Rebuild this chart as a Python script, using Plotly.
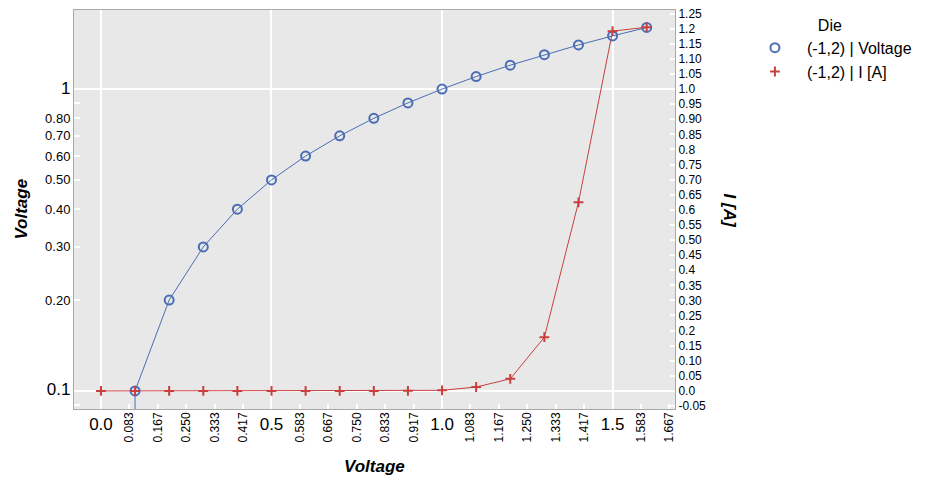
import plotly.graph_objects as go

# data
VOLTAGE = [0.0, 0.1, 0.2, 0.3, 0.4, 0.5, 0.6, 0.7, 0.8, 0.9, 1.0, 1.1, 1.2, 1.3, 1.4, 1.5, 1.6]
CURRENT = [0.0, 0.0, 0.0, 0.0, 0.0, 0.0, 0.0, 0.0, 0.0, 0.0005, 0.002, 0.013, 0.04, 0.178, 0.625, 1.192, 1.205]

X_MAJOR = [0.0, 0.5, 1.0, 1.5]
X_MAJOR_TEXT = ["0.0", "0.5", "1.0", "1.5"]
X_MINOR = [k / 12 for k in range(1, 21) if k % 6 != 0]
X_MINOR_TEXT = ["0.083", "0.167", "0.250", "0.333", "0.417", "0.583", "0.667", "0.750", "0.833",
                "0.917", "1.083", "1.167", "1.250", "1.333", "1.417", "1.583", "1.667"]

Y_LEFT = [0.1, 0.2, 0.3, 0.4, 0.5, 0.6, 0.7, 0.8, 1]
Y_LEFT_TEXT = ["<span style='font-size:17px'>0.1</span>", "0.20", "0.30", "0.40", "0.50",
               "0.60", "0.70", "0.80", "<span style='font-size:17px'>1</span>"]

Y_RIGHT = [round(-0.05 + 0.05 * k, 2) for k in range(27)]
Y_RIGHT_TEXT = ["-0.05", "0.0", "0.05", "0.10", "0.15", "0.2", "0.25", "0.30", "0.35", "0.4",
                "0.45", "0.50", "0.55", "0.6", "0.65", "0.70", "0.75", "0.8", "0.85", "0.90",
                "0.95", "1.0", "1.05", "1.10", "1.15", "1.2", "1.25"]

BLUE = "#4A6DB3"
RED = "#C8403E"
AXIS_GREY = "#A8A8A8"
FONT = "Liberation Sans, Arial, sans-serif"

fig = go.Figure()

# connecting lines (kept out of the legend, which shows markers only)
fig.add_trace(
    go.Scatter(x=VOLTAGE, y=VOLTAGE, mode="lines", line={"color": BLUE, "width": 1},
               showlegend=False, hoverinfo="skip", xaxis="x", yaxis="y")
)
fig.add_trace(
    go.Scatter(x=VOLTAGE, y=CURRENT, mode="lines", line={"color": RED, "width": 1},
               showlegend=False, hoverinfo="skip", xaxis="x", yaxis="y2")
)
fig.add_trace(
    go.Scatter(
        x=VOLTAGE,
        y=VOLTAGE,
        name="(-1,2) | Voltage",
        mode="markers",
        marker={"symbol": "circle-open", "size": 9, "color": BLUE, "line": {"width": 2, "color": BLUE}},
        xaxis="x2",
        yaxis="y",
    )
)
fig.add_trace(
    go.Scatter(
        x=VOLTAGE,
        y=CURRENT,
        name="(-1,2) | I [A]",
        mode="markers",
        marker={"symbol": "cross-thin-open", "size": 7, "color": RED, "line": {"width": 2, "color": RED}},
        xaxis="x2",
        yaxis="y2",
    )
)

x_range = [-0.079, 1.683]

fig.update_layout(
    width=936,
    height=489,
    paper_bgcolor="#FFFFFF",
    plot_bgcolor="#E8E8E8",
    # the page body adds an 8px offset, so the margins compensate for it
    margin={"l": 66, "r": 269, "t": 2, "b": 88},
    font={"family": FONT, "color": "#000000", "size": 12},
    showlegend=True,
    legend={
        "x": 1.113,
        "y": 1.0,
        "xanchor": "left",
        "yanchor": "top",
        "title": {"text": "Die", "side": "top center", "font": {"size": 16}},
        "font": {"size": 16},
        "itemwidth": 54,
        "bgcolor": "rgba(0,0,0,0)",
    },
    xaxis={
        "range": x_range,
        "automargin": False,
        "tickmode": "array",
        "tickvals": X_MAJOR,
        "ticktext": X_MAJOR_TEXT,
        "tickfont": {"size": 17},
        "ticks": "inside",
        "ticklen": 7,
        "tickcolor": "#FFFFFF",
        "tickwidth": 2,
        "showgrid": True,
        "gridcolor": "#FFFFFF",
        "gridwidth": 2,
        "zeroline": False,
        "showline": True,
        "linecolor": AXIS_GREY,
        "mirror": True,
    },
    xaxis2={
        "range": x_range,
        "automargin": False,
        "overlaying": "x",
        "anchor": "y",
        "side": "bottom",
        "tickmode": "array",
        "tickvals": X_MINOR,
        "ticktext": X_MINOR_TEXT,
        "tickangle": -90,
        "tickfont": {"size": 12},
        "ticks": "inside",
        "ticklen": 5,
        "tickcolor": "#FFFFFF",
        "tickwidth": 2,
        "showgrid": False,
        "zeroline": False,
        "showline": False,
    },
    yaxis={
        "type": "log",
        "range": [-1.06, 0.262],
        "automargin": False,
        "tickmode": "array",
        "tickvals": Y_LEFT,
        "ticktext": Y_LEFT_TEXT,
        "tickfont": {"size": 13},
        "ticks": "inside",
        "ticklen": 6,
        "tickcolor": "#FFFFFF",
        "tickwidth": 2,
        "showgrid": False,
        "zeroline": False,
        "showline": True,
        "linecolor": AXIS_GREY,
        "minor": {"tickvals": [0.09, 0.9], "ticks": "inside", "ticklen": 6, "tickcolor": "#FFFFFF", "tickwidth": 2},
    },
    yaxis2={
        "overlaying": "y",
        "side": "right",
        "anchor": "x",
        "range": [-0.0598, 1.262],
        "automargin": False,
        "ticklabeloverflow": "allow",
        "tickmode": "array",
        "tickvals": Y_RIGHT,
        "ticktext": Y_RIGHT_TEXT,
        "tickfont": {"size": 12},
        "ticks": "inside",
        "ticklen": 5,
        "tickcolor": "#FFFFFF",
        "tickwidth": 2,
        "showgrid": False,
        "zeroline": False,
        "showline": True,
        "linecolor": AXIS_GREY,
        "minor": {"tickvals": [0.0, 1.0], "showgrid": True, "gridcolor": "#FFFFFF", "gridwidth": 2, "ticks": ""},
    },
    annotations=[
        {
            "text": "<b><i>Voltage</i></b>",
            "xref": "paper", "yref": "paper",
            "x": 0.5, "y": -0.143, "xanchor": "center", "yanchor": "middle",
            "showarrow": False, "font": {"size": 17},
        },
        {
            "text": "<b><i>Voltage</i></b>",
            "xref": "paper", "yref": "paper",
            "x": -0.088, "y": 0.5, "xanchor": "center", "yanchor": "middle",
            "textangle": -90, "showarrow": False, "font": {"size": 17},
        },
        {
            "text": "<b><i>I [A]</i></b>",
            "xref": "paper", "yref": "paper",
            "x": 1.09, "y": 0.497, "xanchor": "center", "yanchor": "middle",
            "textangle": 90, "showarrow": False, "font": {"size": 17},
        },
    ],
)

fig.write_html("out.html")
